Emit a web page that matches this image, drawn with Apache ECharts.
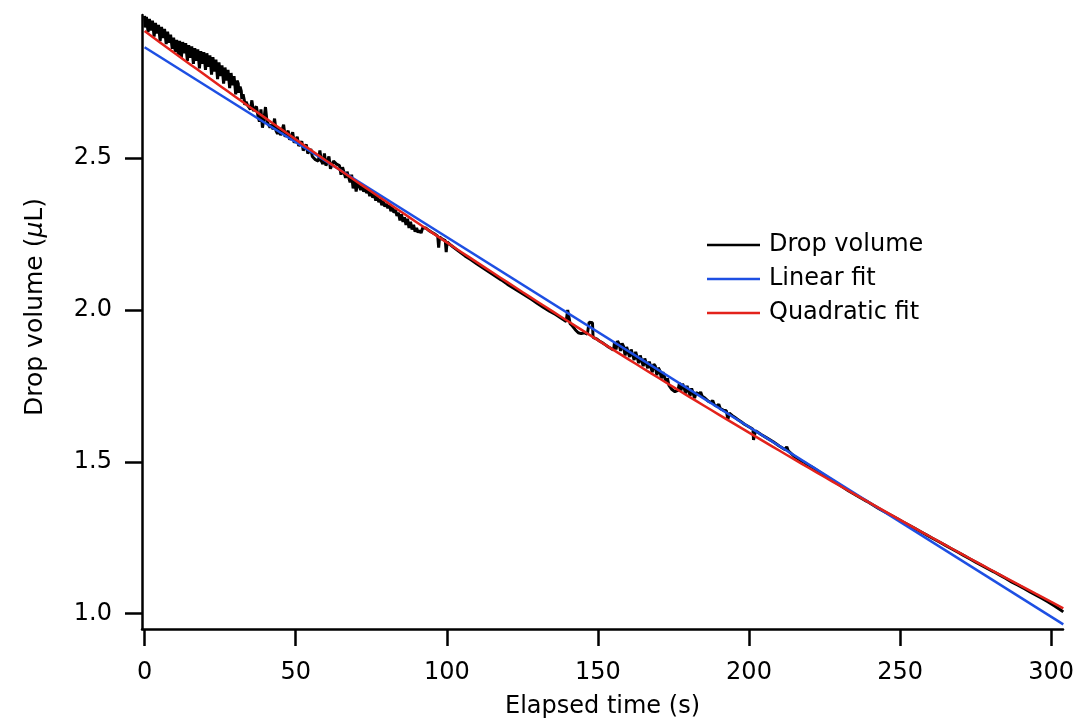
<!DOCTYPE html>
<html>
<head>
<meta charset="utf-8">
<script src="https://cdn.jsdelivr.net/npm/echarts@6/dist/echarts.min.js"></script>
<style>html,body{margin:0;padding:0;background:#fff}#c{width:1082px;height:726px}</style>
</head>
<body>
<div id="c"></div>
<script>
// ---- data ----
const seriesNames = ['Drop volume', 'Linear fit', 'Quadratic fit'];
const xTicks = [0, 50, 100, 150, 200, 250, 300];
const yTicks = [1.0, 1.5, 2.0, 2.5];

// measured drop volume (time s, volume uL)
const dropVolume = [
[0,2.968],[0.15,2.93],[0.45,2.935],[0.6,2.965],
[1,2.962],[1.15,2.915],[1.45,2.92],[1.6,2.958],
[2,2.955],[2.15,2.92],[2.45,2.925],[2.6,2.952],
[3,2.948],[3.15,2.90],[3.45,2.905],[3.6,2.945],
[4,2.94],[4.15,2.91],[4.45,2.915],[4.6,2.938],
[5,2.935],[5.15,2.885],[5.45,2.89],[5.6,2.932],
[6,2.928],[6.15,2.895],[6.45,2.90],[6.6,2.925],
[7,2.92],[7.15,2.875],[7.45,2.88],[7.6,2.916],
[8,2.91],[8.15,2.88],[8.45,2.885],[8.6,2.906],
[9,2.90],[9.15,2.86],[9.45,2.865],[9.6,2.896],
[10,2.89],[10.15,2.85],[10.45,2.855],[10.6,2.889],
[11,2.888],[11.15,2.84],[11.45,2.845],[11.6,2.886],
[12,2.885],[12.15,2.83],[12.45,2.835],[12.6,2.882],
[13,2.88],[13.15,2.845],[13.45,2.85],[13.6,2.878],
[14,2.875],[14.15,2.82],[14.45,2.825],[14.6,2.872],
[15,2.87],[15.15,2.83],[15.45,2.835],[15.6,2.868],
[16,2.865],[16.15,2.81],[16.45,2.815],[16.6,2.862],
[17,2.86],[17.15,2.82],[17.45,2.825],[17.6,2.858],
[18,2.855],[18.15,2.795],[18.45,2.80],[18.6,2.852],
[19,2.85],[19.15,2.81],[19.45,2.815],[19.6,2.849],
[20,2.848],[20.15,2.79],[20.45,2.795],[20.6,2.845],
[21,2.84],[21.15,2.80],[21.45,2.805],[21.6,2.838],
[22,2.835],[22.15,2.775],[22.45,2.78],[22.6,2.832],
[23,2.828],[23.15,2.785],[23.45,2.79],[23.6,2.824],
[24,2.82],[24.15,2.76],[24.45,2.765],[24.6,2.815],
[25,2.81],[25.15,2.77],[25.45,2.775],[25.6,2.805],
[26,2.80],[26.15,2.745],[26.45,2.75],[26.6,2.798],
[27,2.795],[27.15,2.755],[27.45,2.76],[27.6,2.79],
[28,2.785],[28.15,2.73],[28.45,2.735],[28.6,2.78],
[29,2.775],[29.15,2.74],[29.45,2.745],[29.6,2.77],
[30,2.765],[30.15,2.71],[30.45,2.715],[30.6,2.755],
[31,2.745],[31.15,2.715],[31.45,2.72],[31.6,2.735],
[32,2.72],[32.15,2.695],[32.45,2.70],[32.6,2.71],
[33,2.69],[33.15,2.675],[33.45,2.68],[33.6,2.685],
[34,2.675],[34.5,2.668],
[35,2.66],[35.5,2.69],[36,2.655],[36.5,2.65],[37,2.67],[37.5,2.64],[38,2.62],[38.5,2.66],[39,2.60],[39.5,2.63],
[40,2.668],[40.5,2.62],[41,2.615],[41.5,2.60],[42,2.61],[42.5,2.595],[43,2.63],[43.5,2.59],[44,2.58],[44.5,2.60],
[45,2.575],[45.5,2.57],[46,2.61],[46.5,2.57],[47,2.565],[47.5,2.59],[48,2.56],[48.5,2.555],[49,2.585],[49.5,2.55],
[50,2.545],[50.5,2.57],[51,2.54],[51.5,2.535],[52,2.555],[52.5,2.525],[53,2.52],[53.5,2.545],[54,2.515],[54.5,2.51],
[55,2.53],[55.5,2.505],[56,2.50],[56.5,2.495],[57,2.50],[57.5,2.49],[58,2.525],[58.5,2.49],[59,2.48],[59.5,2.515],
[60,2.475],[60.5,2.47],[61,2.505],[61.5,2.465],[62,2.46],[62.5,2.49],[63,2.485],[63.5,2.48],[64,2.48],[64.5,2.475],
[65,2.445],[65.5,2.47],[66,2.465],[66.5,2.435],[67,2.455],[67.5,2.45],[68,2.42],[68.5,2.445],[69,2.40],[69.5,2.43],
[70,2.39],[70.5,2.42],[71,2.41],[71.5,2.395],[72,2.408],[72.5,2.39],[73,2.40],[73.5,2.385],[74,2.395],[74.5,2.375],
[75,2.39],[75.5,2.37],[76,2.38],[76.5,2.36],[77,2.375],[77.5,2.355],[78,2.365],[78.5,2.345],[79,2.36],[79.5,2.34],
[80,2.35],[80.5,2.335],[81,2.345],[81.5,2.325],[82,2.34],[82.5,2.32],[83,2.33],[83.5,2.31],[84,2.32],[84.5,2.295],
[85,2.315],[85.5,2.29],[86,2.305],[86.5,2.28],[87,2.30],[87.5,2.27],[88,2.29],[88.5,2.265],[89,2.28],[89.5,2.258],
[90,2.27],[90.5,2.255],[91,2.262],[91.5,2.253],[92,2.27],[92.5,2.268],[93,2.27],[94,2.262],[95,2.256],[96,2.25],
[97,2.243],[97.3,2.205],[97.6,2.24],[98.5,2.233],[99.5,2.228],[99.8,2.19],[100.1,2.224],[101,2.216],
[102,2.208],[104,2.193],[106,2.178],[108,2.165],[110,2.151],[112,2.138],[114,2.125],[116,2.112],[118,2.099],[120,2.085],
[122,2.072],[124,2.060],[126,2.048],[128,2.035],[130,2.021],[132,2.008],[134,1.996],[136,1.985],[138,1.972],[139.5,1.962],
[139.8,1.96],[140,2.0],[140.6,2.0],[140.8,1.955],[141.5,1.948],[142.5,1.935],[143.5,1.925],[144.5,1.922],[145.5,1.925],[146.5,1.92],
[147,1.918],[147.1,1.96],[148.2,1.958],[148.4,1.91],[149.5,1.905],[150.5,1.898],[151.5,1.892],[152.5,1.885],[153.5,1.878],[154.5,1.872],
[155.2,1.868],[155.5,1.895],[156,1.87],[156.5,1.898],[157,1.888],[157.5,1.865],[158,1.89],[158.5,1.88],[159,1.85],[159.5,1.878],
[160,1.872],[160.5,1.845],[161,1.87],[161.5,1.865],[162,1.835],[162.5,1.862],[163,1.858],[163.5,1.825],[164,1.85],[164.5,1.845],
[165,1.815],[165.5,1.84],[166,1.838],[166.5,1.808],[167,1.83],[167.5,1.826],[168,1.795],[168.5,1.822],[169,1.815],[169.5,1.785],
[170,1.81],[170.5,1.80],[171,1.775],[171.5,1.795],[172,1.79],[172.5,1.765],[173,1.775],[173.5,1.752],[174.5,1.738],[175.5,1.731],
[176.5,1.735],[177,1.76],[177.5,1.735],[178,1.757],[178.5,1.745],[179,1.725],[179.5,1.75],[180,1.745],[180.5,1.718],[181,1.742],
[181.5,1.738],[182,1.71],[182.5,1.728],[183.5,1.722],[184,1.73],[184.5,1.716],[185.5,1.709],[186,1.715],[186.5,1.70],[187.5,1.695],
[188,1.702],[188.5,1.688],[189.5,1.682],[190,1.69],[190.5,1.675],[191.5,1.67],[192.5,1.668],[193,1.64],[193.5,1.66],[194.5,1.652],
[195.5,1.645],[196.5,1.638],[197.5,1.631],[198.5,1.624],[199.5,1.618],[200.5,1.612],[201.3,1.607],[201.5,1.572],[201.9,1.572],[202.1,1.602],
[203,1.597],[204,1.59],[206,1.578],[208,1.566],[210,1.552],[212,1.54],[212.5,1.55],[213,1.536],[215,1.518],[217,1.505],
[218.5,1.497],[218.8,1.502],[219.2,1.492],[221,1.482],[223,1.469],[225,1.456],[227,1.443],[229,1.43],[231,1.417],[233,1.404],
[235,1.393],[237,1.381],[239,1.37],[241,1.358],[243,1.346],[245,1.335],[247,1.324],[249,1.313],[251,1.302],[253,1.291],
[255,1.28],[257,1.269],[259,1.258],[261,1.247],[263,1.236],[265,1.225],[267,1.214],[269,1.203],[271,1.192],[273,1.181],
[275,1.17],[277,1.159],[279,1.148],[281,1.138],[283,1.127],[285,1.116],[287,1.104],[289,1.094],[291,1.083],[293,1.072],
[295,1.061],[297,1.050],[299,1.039],[301,1.026],[303,1.013],[304,1.006]
];

// linear fit (straight line, end points)
const linearFit = [[0, 2.865], [304, 0.965]];

// quadratic fit, read every 5 s
const quadTime = [0,5,10,15,20,25,30,35,40,45,50,55,60,65,70,75,80,85,90,95,100,105,110,115,120,125,130,135,140,145,150,155,160,165,170,175,180,185,190,195,200,205,210,215,220,225,230,235,240,245,250,255,260,265,270,275,280,285,290,295,300,304];
const quadValue = [2.918,2.8816,2.8453,2.8092,2.7733,2.7376,2.7021,2.6667,2.6315,2.5964,2.5615,2.5269,2.4923,2.4580,2.4238,2.3898,2.3560,2.3223,2.2888,2.2555,2.2224,2.1894,2.1566,2.1240,2.0916,2.0593,2.0272,1.9953,1.9635,1.9320,1.9005,1.8693,1.8383,1.8074,1.7767,1.7461,1.7157,1.6855,1.6555,1.6257,1.5960,1.5665,1.5372,1.5080,1.4790,1.4502,1.4216,1.3931,1.3648,1.3367,1.3088,1.2810,1.2534,1.2259,1.1987,1.1716,1.1447,1.1180,1.0914,1.0650,1.0388,1.0179];

// ---- chart ----
const FONT = 'DejaVu Sans';
const FS = 24;
const BLACK = '#000', BLUE = '#1d4fe3', RED = '#e3221b';
const chart = echarts.init(document.getElementById('c'), null, {renderer: 'canvas'});
const axisLine = {show: true, onZero: false, lineStyle: {color: '#000', width: 2.5}};
const tickStyle = {show: true, inside: false, length: 17, lineStyle: {color: '#000', width: 2.5}};
chart.setOption({
  animation: false,
  backgroundColor: '#fff',
  grid: {left: 142, right: 19, top: 15, bottom: 97},
  legend: {
    orient: 'vertical', left: 702, top: 228,
    itemWidth: 53, itemHeight: 2.5, itemGap: 10,
    textStyle: {color: '#000', fontFamily: FONT, fontSize: FS, lineHeight: 24, padding: [0, 0, 0, 4]},
    data: [
      {name: seriesNames[0], icon: 'rect', itemStyle: {color: BLACK}},
      {name: seriesNames[1], icon: 'rect', itemStyle: {color: BLUE}},
      {name: seriesNames[2], icon: 'rect', itemStyle: {color: RED}}
    ]
  },
  xAxis: {
    type: 'value', min: -0.86, max: 303.9,
    name: 'Elapsed time (s)', nameLocation: 'middle', nameGap: 66,
    nameTextStyle: {color: '#000', fontFamily: FONT, fontSize: FS},
    axisLine: axisLine,
    splitLine: {show: false},
    axisTick: Object.assign({}, tickStyle, {customValues: xTicks}),
    axisLabel: {customValues: xTicks, color: '#000', fontFamily: FONT, fontSize: FS, margin: 32}
  },
  yAxis: {
    type: 'value', min: 0.9497, max: 2.971,
    name: 'Drop volume ({i|μ}L)', nameLocation: 'middle', nameGap: 94,
    nameTextStyle: {color: '#000', fontFamily: FONT, fontSize: 25, padding: [0, 0, 0, 30],
      rich: {i: {fontStyle: 'italic', fontFamily: FONT, fontSize: 25, color: '#000'}}},
    axisLine: axisLine,
    splitLine: {show: false},
    axisTick: Object.assign({}, tickStyle, {customValues: yTicks}),
    axisLabel: {customValues: yTicks, color: '#000', fontFamily: FONT, fontSize: FS, margin: 30,
      formatter: v => v.toFixed(1)}
  },
  series: [
    {name: seriesNames[0], type: 'line', data: dropVolume, symbol: 'none', showSymbol: false, z: 2,
      lineStyle: {color: BLACK, width: 3}, itemStyle: {color: BLACK}},
    {name: seriesNames[1], type: 'line', data: linearFit, symbol: 'none', showSymbol: false, z: 3,
      lineStyle: {color: BLUE, width: 2.5}, itemStyle: {color: BLUE}},
    {name: seriesNames[2], type: 'line', data: quadTime.map((t, i) => [t, quadValue[i]]), symbol: 'none', showSymbol: false, smooth: true, z: 4,
      lineStyle: {color: RED, width: 2.5}, itemStyle: {color: RED}}
  ]
});
</script>
</body>
</html>
